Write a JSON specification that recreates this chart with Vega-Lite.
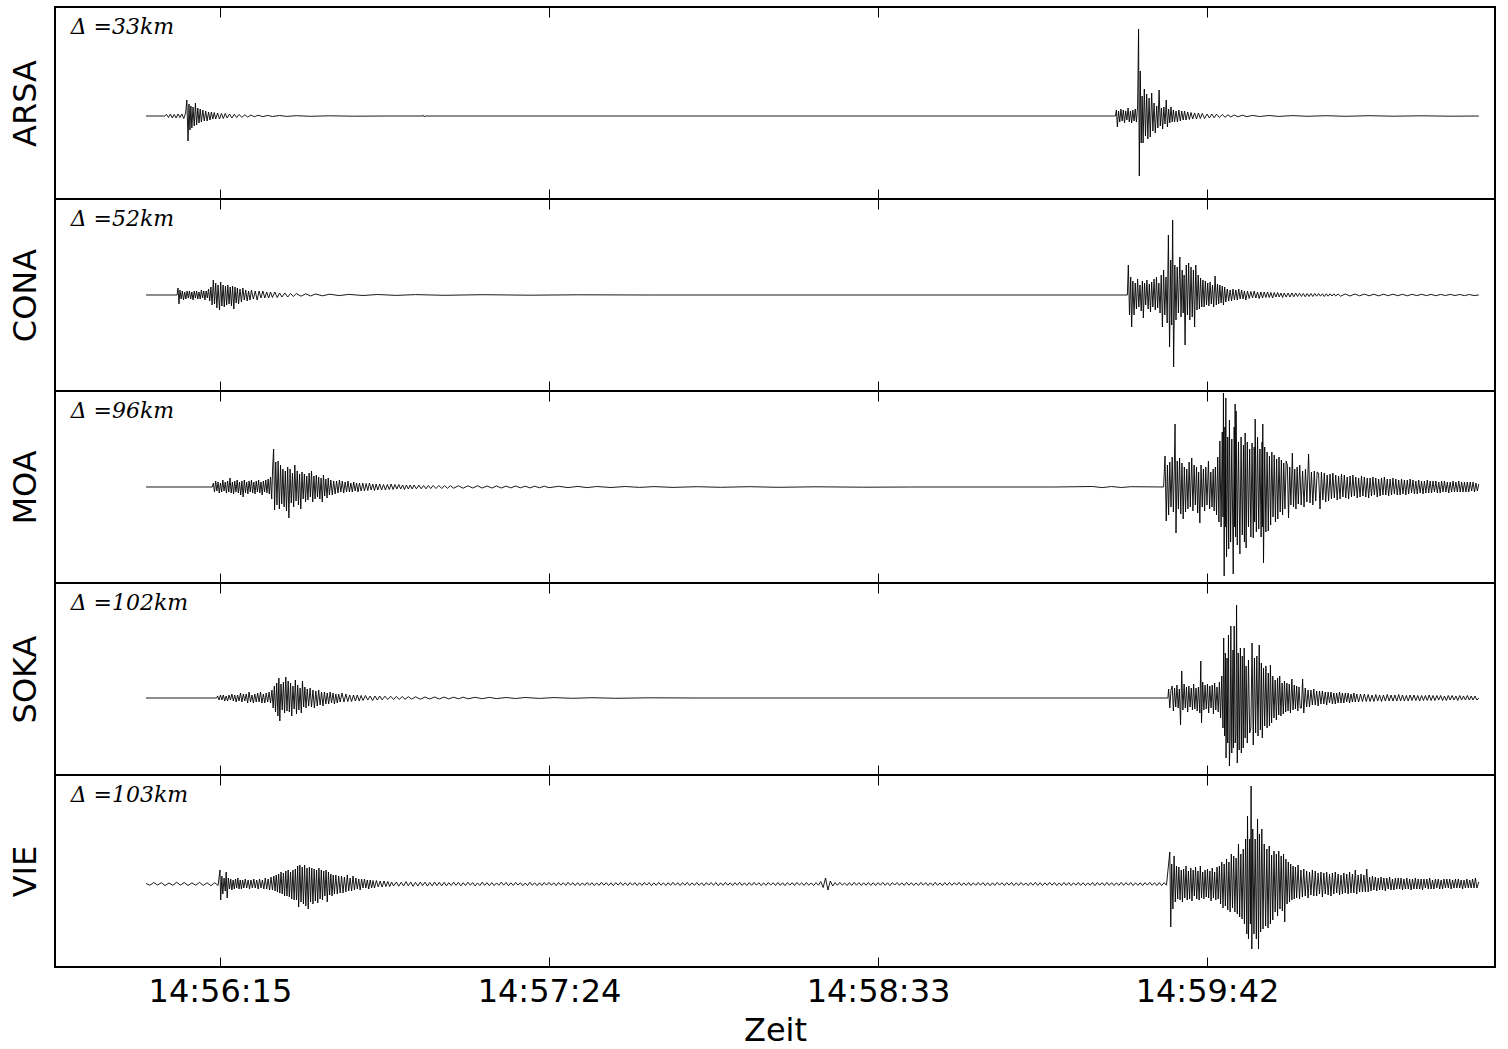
{
"$schema":"https://vega.github.io/schema/vega-lite/v6.json",
"background":"white",
"padding":{"left":8,"top":5,"right":13,"bottom":0},
"spacing":0,
"bounds":"flush",
"config":{"view":{"stroke":"black","strokeWidth":2},"font":"DejaVu Sans"},
"resolve":{"scale":{"x":"independent","y":"independent"}},
"datasets":{
"ARSA":[{"t":59.5,"v":0},{"t":63.4,"v":0},{"t":63.8,"v":1.5},{"t":64.2,"v":-1.5},{"t":64.6,"v":2},{"t":65,"v":-2},{"t":65.4,"v":1.5},{"t":65.8,"v":-2},{"t":66.2,"v":2},{"t":66.6,"v":-1.5},{"t":67,"v":2},{"t":67.4,"v":-2.5},{"t":67.8,"v":3},{"t":68.05,"v":16},{"t":68.3,"v":-25},{"t":68.5,"v":12},{"t":68.7,"v":-14},{"t":68.9,"v":10},{"t":69.1,"v":-12},{"t":69.35,"v":9},{"t":69.6,"v":-10},{"t":69.85,"v":13},{"t":70.1,"v":-9},{"t":70.35,"v":8},{"t":70.6,"v":-7},{"t":70.85,"v":7},{"t":71.1,"v":-6},{"t":71.4,"v":6},{"t":71.7,"v":-5},{"t":72,"v":5},{"t":72.3,"v":-5},{"t":72.6,"v":4},{"t":72.9,"v":-4},{"t":73.2,"v":4},{"t":73.5,"v":-3},{"t":73.8,"v":3.5},{"t":74.1,"v":-3},{"t":74.5,"v":3},{"t":74.9,"v":-3},{"t":75.3,"v":2.5},{"t":75.7,"v":-2.5},{"t":76.1,"v":2.5},{"t":76.5,"v":-2},{"t":77,"v":2},{"t":77.5,"v":-2},{"t":78,"v":1.8},{"t":78.5,"v":-1.5},{"t":79,"v":1.5},{"t":79.6,"v":-1.3},{"t":80.2,"v":1.2},{"t":80.8,"v":-1},{"t":81.5,"v":1},{"t":82.2,"v":-0.8},{"t":83,"v":0.8},{"t":84,"v":-0.7},{"t":85,"v":0.6},{"t":86,"v":-0.5},{"t":87.5,"v":0.5},{"t":89,"v":-0.4},{"t":91,"v":0.3},{"t":94,"v":-0.3},{"t":98,"v":0.2},{"t":103,"v":-0.2},{"t":110,"v":0},{"t":117.4,"v":0},{"t":117.6,"v":0.8},{"t":117.8,"v":-0.8},{"t":118,"v":0},{"t":262.8,"v":0},
{"t":263,"v":6},{"t":263.2,"v":-11},{"t":263.45,"v":5},{"t":263.7,"v":-6},{"t":263.95,"v":7},{"t":264.2,"v":-5},{"t":264.45,"v":6},{"t":264.7,"v":-7},{"t":264.95,"v":5},{"t":265.2,"v":-4},{"t":265.45,"v":8},{"t":265.7,"v":-6},{"t":265.95,"v":5},{"t":266.2,"v":-7},{"t":266.45,"v":6},{"t":266.7,"v":-5},{"t":266.95,"v":7},{"t":267.2,"v":-6},{"t":267.45,"v":10},{"t":267.65,"v":87},{"t":267.8,"v":-60},{"t":268,"v":45},{"t":268.2,"v":-27},{"t":268.4,"v":20},{"t":268.6,"v":-27},{"t":268.85,"v":27},{"t":269.1,"v":-20},{"t":269.35,"v":22},{"t":269.6,"v":-23},{"t":269.85,"v":18},{"t":270.1,"v":-21},{"t":270.4,"v":23},{"t":270.65,"v":-15},{"t":270.9,"v":13},{"t":271.15,"v":-17},{"t":271.45,"v":10},{"t":271.7,"v":-12},{"t":271.95,"v":26},{"t":272.2,"v":-10},{"t":272.45,"v":8},{"t":272.7,"v":-13},{"t":272.95,"v":9},{"t":273.2,"v":-8},{"t":273.45,"v":16},{"t":273.7,"v":-11},{"t":273.95,"v":7},{"t":274.2,"v":-7},{"t":274.45,"v":9},{"t":274.7,"v":-6},{"t":274.95,"v":6},{"t":275.2,"v":-6},{"t":275.5,"v":5},{"t":275.8,"v":-6},{"t":276.1,"v":6},{"t":276.4,"v":-5},{"t":276.7,"v":5},{"t":277,"v":-4},{"t":277.3,"v":5},{"t":277.6,"v":-4},{"t":277.95,"v":4},{"t":278.3,"v":-3.5},{"t":278.65,"v":3.5},{"t":279,"v":-3},{"t":279.4,"v":3},{"t":279.8,"v":-3},{"t":280.2,"v":3},{"t":280.6,"v":-2.5},{"t":281,"v":2.5},{"t":281.5,"v":-2.5},{"t":282,"v":2},{"t":282.5,"v":-2},{"t":283,"v":2},{"t":283.5,"v":-1.8},{"t":284,"v":1.8},{"t":284.6,"v":-1.5},{"t":285.2,"v":1.5},{"t":285.8,"v":-1.3},{"t":286.4,"v":1.2},{"t":287,"v":-1},{"t":287.7,"v":1},{"t":288.5,"v":-0.8},{"t":289.4,"v":0.8},{"t":290.4,"v":-0.7},{"t":291.5,"v":0.6},{"t":293,"v":-0.5},{"t":295,"v":0.5},{"t":297,"v":-0.4},{"t":300,"v":0.4},{"t":303,"v":-0.3},{"t":307,"v":0.3},{"t":311,"v":-0.3},{"t":316,"v":0.3},{"t":321,"v":-0.2},{"t":327,"v":0.2},{"t":333,"v":-0.2},{"t":339,"v":0}],
"CONA":[{"t":59.5,"v":0},{"t":66,"v":0},{"t":66.2,"v":7},{"t":66.4,"v":-9},{"t":66.6,"v":5},{"t":66.85,"v":-4},{"t":67.1,"v":4},{"t":67.35,"v":-5},{"t":67.6,"v":3},{"t":67.85,"v":-4},{"t":68.1,"v":4},{"t":68.35,"v":-3},{"t":68.6,"v":4},{"t":68.85,"v":-4},{"t":69.1,"v":3},{"t":69.35,"v":-5},{"t":69.6,"v":4},{"t":69.85,"v":-3},{"t":70.1,"v":4},{"t":70.35,"v":-4},{"t":70.6,"v":3},{"t":70.85,"v":-4},{"t":71.1,"v":5},{"t":71.35,"v":-3},{"t":71.6,"v":4},{"t":71.85,"v":-5},{"t":72.1,"v":4},{"t":72.35,"v":-3},{"t":72.6,"v":6},{"t":72.85,"v":-6},{"t":73.1,"v":8},{"t":73.35,"v":-10},{"t":73.6,"v":15},{"t":73.85,"v":-9},{"t":74.1,"v":12},{"t":74.35,"v":-13},{"t":74.6,"v":10},{"t":74.9,"v":-15},{"t":75.15,"v":13},{"t":75.4,"v":-11},{"t":75.65,"v":10},{"t":75.9,"v":-12},{"t":76.15,"v":9},{"t":76.4,"v":-10},{"t":76.65,"v":10},{"t":76.9,"v":-9},{"t":77.15,"v":8},{"t":77.4,"v":-11},{"t":77.65,"v":9},{"t":77.9,"v":-14},{"t":78.15,"v":8},{"t":78.4,"v":-8},{"t":78.65,"v":7},{"t":78.9,"v":-9},{"t":79.2,"v":6},{"t":79.5,"v":-7},{"t":79.8,"v":7},{"t":80.1,"v":-5},{"t":80.4,"v":5},{"t":80.7,"v":-6},{"t":81,"v":4},{"t":81.3,"v":-5},{"t":81.6,"v":5},{"t":82,"v":-4},{"t":82.4,"v":4},{"t":82.8,"v":-5},{"t":83.2,"v":4},{"t":83.6,"v":-3},{"t":84,"v":4},{"t":84.4,"v":-3},{"t":84.8,"v":3},{"t":85.2,"v":-3},{"t":85.6,"v":3},{"t":86,"v":-2.5},{"t":86.5,"v":3},{"t":87,"v":-2.5},{"t":87.5,"v":2},{"t":88,"v":-2},{"t":88.6,"v":2},{"t":89.2,"v":-2},{"t":89.8,"v":1.5},{"t":90.4,"v":-1.5},{"t":91,"v":1.5},{"t":92,"v":-1.2},{"t":93,"v":1.2},{"t":94,"v":-1},{"t":95,"v":1},{"t":96.5,"v":-0.8},{"t":98,"v":0.8},{"t":100,"v":-0.6},{"t":102,"v":0.6},{"t":105,"v":-0.5},{"t":108,"v":0.5},{"t":112,"v":-0.4},{"t":116,"v":0.4},{"t":122,"v":-0.3},{"t":130,"v":0.3},{"t":140,"v":-0.2},{"t":150,"v":0.2},{"t":165,"v":0},{"t":265.3,"v":0},
{"t":265.5,"v":30},{"t":265.75,"v":-20},{"t":266,"v":18},{"t":266.2,"v":-32},{"t":266.45,"v":14},{"t":266.7,"v":-20},{"t":266.95,"v":12},{"t":267.2,"v":-14},{"t":267.45,"v":16},{"t":267.7,"v":-12},{"t":267.95,"v":10},{"t":268.2,"v":-16},{"t":268.45,"v":14},{"t":268.65,"v":-23},{"t":268.9,"v":12},{"t":269.15,"v":-10},{"t":269.4,"v":15},{"t":269.65,"v":-14},{"t":269.9,"v":11},{"t":270.15,"v":-17},{"t":270.4,"v":13},{"t":270.65,"v":-12},{"t":270.9,"v":16},{"t":271.15,"v":-15},{"t":271.4,"v":18},{"t":271.65,"v":-13},{"t":271.9,"v":12},{"t":272.15,"v":-18},{"t":272.4,"v":20},{"t":272.65,"v":-32},{"t":272.9,"v":25},{"t":273.15,"v":-20},{"t":273.4,"v":18},{"t":273.65,"v":-28},{"t":273.9,"v":60},{"t":274.15,"v":-52},{"t":274.4,"v":35},{"t":274.6,"v":-30},{"t":274.8,"v":75},{"t":275,"v":-72},{"t":275.25,"v":30},{"t":275.5,"v":-25},{"t":275.75,"v":28},{"t":276,"v":-18},{"t":276.3,"v":38},{"t":276.55,"v":-22},{"t":276.8,"v":25},{"t":277,"v":-18},{"t":277.2,"v":20},{"t":277.4,"v":-50},{"t":277.65,"v":30},{"t":277.9,"v":-20},{"t":278.15,"v":32},{"t":278.4,"v":-25},{"t":278.65,"v":28},{"t":278.9,"v":-22},{"t":279.15,"v":25},{"t":279.4,"v":-32},{"t":279.65,"v":30},{"t":279.9,"v":-15},{"t":280.15,"v":20},{"t":280.4,"v":-14},{"t":280.65,"v":17},{"t":280.9,"v":-12},{"t":281.15,"v":15},{"t":281.4,"v":-12},{"t":281.65,"v":14},{"t":281.9,"v":-10},{"t":282.15,"v":12},{"t":282.4,"v":-11},{"t":282.65,"v":13},{"t":282.9,"v":-9},{"t":283.15,"v":10},{"t":283.4,"v":-12},{"t":283.7,"v":19},{"t":283.95,"v":-10},{"t":284.2,"v":11},{"t":284.45,"v":-9},{"t":284.7,"v":10},{"t":284.95,"v":-8},{"t":285.2,"v":9},{"t":285.45,"v":-10},{"t":285.7,"v":8},{"t":285.95,"v":-7},{"t":286.25,"v":6},{"t":286.55,"v":-6},{"t":286.85,"v":5},{"t":287.15,"v":-6},{"t":287.45,"v":6},{"t":287.75,"v":-5},{"t":288.05,"v":5},{"t":288.35,"v":-5},{"t":288.65,"v":6},{"t":288.95,"v":-4},{"t":289.25,"v":5},{"t":289.55,"v":-4},{"t":289.85,"v":4},{"t":290.15,"v":-5},{"t":290.5,"v":4},{"t":290.85,"v":-3.5},{"t":291.2,"v":3.5},{"t":291.55,"v":-3},{"t":291.9,"v":4},{"t":292.25,"v":-3},{"t":292.6,"v":3},{"t":292.95,"v":-3.5},{"t":293.3,"v":3},{"t":293.65,"v":-3},{"t":294,"v":3},{"t":294.35,"v":-2.5},{"t":294.7,"v":3},{"t":295.05,"v":-2.5},{"t":295.4,"v":2.5},{"t":295.75,"v":-3},{"t":296.1,"v":2.5},{"t":296.45,"v":-2},{"t":296.8,"v":2.5},{"t":297.15,"v":-2},{"t":297.5,"v":2},{"t":297.85,"v":-2.5},{"t":298.2,"v":2},{"t":298.6,"v":-2},{"t":299,"v":2},{"t":299.4,"v":-2},{"t":299.8,"v":2},{"t":300.2,"v":-1.8},{"t":300.6,"v":2},{"t":301,"v":-1.5},{"t":301.4,"v":1.8},{"t":301.8,"v":-1.5},{"t":302.2,"v":1.5},{"t":302.6,"v":-1.8},{"t":303,"v":1.5},{"t":303.4,"v":-1.5},{"t":303.8,"v":1.5},{"t":304.2,"v":-1.5},{"t":304.6,"v":1.5},{"t":305,"v":-1.2},{"t":305.4,"v":1.5},{"t":305.8,"v":-1.2},{"t":306.2,"v":1.2},{"t":306.6,"v":-1.5},{"t":307,"v":1.2},{"t":307.4,"v":-1.2},{"t":307.8,"v":1.2},{"t":308.2,"v":-1},{"t":308.6,"v":1.2},{"t":309,"v":-1},{"t":309.5,"v":1},{"t":310,"v":-1.2},{"t":311,"v":1},{"t":312,"v":-1},{"t":313,"v":1},{"t":314,"v":-0.8},{"t":315,"v":0.9},{"t":316,"v":-0.8},{"t":317,"v":0.8},{"t":318,"v":-0.9},{"t":319,"v":0.8},{"t":320,"v":-0.7},{"t":321,"v":0.8},{"t":322,"v":-0.7},{"t":323,"v":0.7},{"t":324,"v":-0.8},{"t":325,"v":0.7},{"t":326,"v":-0.6},{"t":327,"v":0.7},{"t":328,"v":-0.6},{"t":329,"v":0.6},{"t":330,"v":-0.7},{"t":331,"v":0.6},{"t":332,"v":-0.5},{"t":333,"v":0.6},{"t":334,"v":-0.5},{"t":335,"v":0.5},{"t":336,"v":-0.6},{"t":337,"v":0.5},{"t":338,"v":-0.5},{"t":339,"v":0}],
"MOA":[{"t":59.5,"v":0},{"t":73.4,"v":0},{"t":73.6,"v":4},{"t":73.85,"v":-5},{"t":74.1,"v":6},{"t":74.35,"v":-4},{"t":74.6,"v":5},{"t":74.85,"v":-6},{"t":75.1,"v":4},{"t":75.35,"v":-5},{"t":75.6,"v":7},{"t":75.85,"v":-4},{"t":76.1,"v":5},{"t":76.35,"v":-6},{"t":76.6,"v":6},{"t":76.85,"v":-5},{"t":77.1,"v":9},{"t":77.35,"v":-6},{"t":77.6,"v":5},{"t":77.85,"v":-7},{"t":78.1,"v":6},{"t":78.35,"v":-5},{"t":78.6,"v":7},{"t":78.85,"v":-6},{"t":79.1,"v":5},{"t":79.35,"v":-8},{"t":79.6,"v":6},{"t":79.85,"v":-10},{"t":80.1,"v":7},{"t":80.35,"v":-6},{"t":80.6,"v":5},{"t":80.85,"v":-7},{"t":81.1,"v":6},{"t":81.35,"v":-5},{"t":81.6,"v":7},{"t":81.85,"v":-6},{"t":82.1,"v":5},{"t":82.35,"v":-7},{"t":82.6,"v":6},{"t":82.85,"v":-5},{"t":83.1,"v":7},{"t":83.35,"v":-6},{"t":83.6,"v":5},{"t":83.85,"v":-8},{"t":84.1,"v":6},{"t":84.35,"v":-5},{"t":84.6,"v":7},{"t":84.85,"v":-6},{"t":85.1,"v":8},{"t":85.35,"v":-7},{"t":85.6,"v":10},{"t":85.85,"v":-12},{"t":86.05,"v":20},{"t":86.25,"v":38},{"t":86.45,"v":-23},{"t":86.7,"v":25},{"t":86.95,"v":-18},{"t":87.2,"v":26},{"t":87.45,"v":-22},{"t":87.7,"v":22},{"t":87.95,"v":-17},{"t":88.2,"v":18},{"t":88.45,"v":-20},{"t":88.7,"v":16},{"t":88.95,"v":-24},{"t":89.2,"v":20},{"t":89.45,"v":-31},{"t":89.7,"v":18},{"t":89.95,"v":-16},{"t":90.2,"v":14},{"t":90.45,"v":-20},{"t":90.7,"v":22},{"t":90.95,"v":-14},{"t":91.2,"v":16},{"t":91.45,"v":-18},{"t":91.7,"v":13},{"t":91.95,"v":-22},{"t":92.2,"v":15},{"t":92.45,"v":-12},{"t":92.7,"v":13},{"t":92.95,"v":-15},{"t":93.2,"v":11},{"t":93.45,"v":-13},{"t":93.7,"v":14},{"t":93.95,"v":-10},{"t":94.2,"v":16},{"t":94.45,"v":-15},{"t":94.7,"v":11},{"t":94.95,"v":-12},{"t":95.2,"v":12},{"t":95.45,"v":-10},{"t":95.7,"v":10},{"t":95.95,"v":-12},{"t":96.2,"v":9},{"t":96.45,"v":-15},{"t":96.7,"v":12},{"t":96.95,"v":-9},{"t":97.2,"v":8},{"t":97.45,"v":-11},{"t":97.7,"v":9},{"t":97.95,"v":-8},{"t":98.25,"v":7},{"t":98.55,"v":-8},{"t":98.85,"v":6},{"t":99.15,"v":-7},{"t":99.45,"v":6},{"t":99.75,"v":-6},{"t":100.05,"v":7},{"t":100.35,"v":-5},{"t":100.65,"v":6},{"t":100.95,"v":-6},{"t":101.25,"v":5},{"t":101.55,"v":-5},{"t":101.85,"v":6},{"t":102.15,"v":-5},{"t":102.45,"v":4},{"t":102.75,"v":-5},{"t":103.05,"v":5},{"t":103.35,"v":-4},{"t":103.65,"v":4},{"t":103.95,"v":-5},{"t":104.25,"v":4},{"t":104.6,"v":-4},{"t":104.95,"v":4},{"t":105.3,"v":-4},{"t":105.65,"v":3.5},{"t":106,"v":-3.5},{"t":106.35,"v":4},{"t":106.7,"v":-3},{"t":107.05,"v":3},{"t":107.4,"v":-3.5},{"t":107.75,"v":3},{"t":108.1,"v":-3},{"t":108.5,"v":3},{"t":108.9,"v":-3},{"t":109.3,"v":2.5},{"t":109.7,"v":-3},{"t":110.1,"v":2.5},{"t":110.5,"v":-2.5},{"t":110.9,"v":3},{"t":111.3,"v":-2.5},{"t":111.7,"v":2.5},{"t":112.1,"v":-2},{"t":112.5,"v":2.5},{"t":112.9,"v":-2},{"t":113.3,"v":2},{"t":113.7,"v":-2.5},{"t":114.1,"v":2},{"t":114.5,"v":-2},{"t":114.9,"v":2},{"t":115.3,"v":-2},{"t":115.7,"v":2},{"t":116.2,"v":-1.8},{"t":116.7,"v":1.8},{"t":117.2,"v":-1.8},{"t":117.7,"v":1.5},{"t":118.2,"v":-1.8},{"t":118.7,"v":1.5},{"t":119.2,"v":-1.5},{"t":119.7,"v":1.5},{"t":120.3,"v":-1.5},{"t":120.9,"v":1.5},{"t":121.5,"v":-1.5},{"t":122.1,"v":1.3},{"t":122.7,"v":-1.3},{"t":123.3,"v":1.3},{"t":124,"v":-1.2},{"t":125,"v":1.2},{"t":126,"v":-1.2},{"t":127,"v":1.2},{"t":128,"v":-1},{"t":129,"v":1.2},{"t":130,"v":-1},{"t":131,"v":1},{"t":132,"v":-1},{"t":133,"v":1},{"t":134,"v":-1},{"t":135,"v":0.9},{"t":136,"v":-0.9},{"t":137,"v":1},{"t":138,"v":-0.8},{"t":139,"v":0.8},{"t":140,"v":-0.9},{"t":141,"v":0.8},{"t":142,"v":-0.8},{"t":143,"v":0.8},{"t":144,"v":-0.7},{"t":146,"v":0.7},{"t":148,"v":-0.6},{"t":150,"v":0.6},{"t":152,"v":-0.6},{"t":154,"v":0.5},{"t":157,"v":-0.5},{"t":160,"v":0.5},{"t":163,"v":-0.4},{"t":166,"v":0.4},{"t":170,"v":-0.4},{"t":175,"v":0.3},{"t":180,"v":-0.3},{"t":186,"v":0.3},{"t":192,"v":-0.3},{"t":200,"v":0.2},{"t":210,"v":-0.2},{"t":220,"v":0},{"t":250,"v":0},{"t":258,"v":0.5},{"t":260,"v":-0.6},{"t":262,"v":0.5},{"t":264,"v":-0.5},{"t":266,"v":0.3},{"t":272.9,"v":0},
{"t":273.2,"v":31},{"t":273.45,"v":-34},{"t":273.7,"v":22},{"t":273.95,"v":-28},{"t":274.2,"v":25},{"t":274.45,"v":-20},{"t":274.7,"v":30},{"t":274.95,"v":-25},{"t":275.15,"v":20},{"t":275.3,"v":63},{"t":275.5,"v":-46},{"t":275.75,"v":26},{"t":276,"v":-22},{"t":276.25,"v":29},{"t":276.5,"v":-27},{"t":276.75,"v":24},{"t":277,"v":-32},{"t":277.25,"v":20},{"t":277.5,"v":-25},{"t":277.75,"v":18},{"t":278,"v":-22},{"t":278.25,"v":25},{"t":278.5,"v":-20},{"t":278.8,"v":29},{"t":279.05,"v":-24},{"t":279.3,"v":22},{"t":279.55,"v":-18},{"t":279.8,"v":20},{"t":280.05,"v":-26},{"t":280.25,"v":15},{"t":280.5,"v":-36},{"t":280.75,"v":22},{"t":281,"v":-20},{"t":281.25,"v":18},{"t":281.5,"v":-24},{"t":281.75,"v":20},{"t":282,"v":-18},{"t":282.3,"v":26},{"t":282.55,"v":-22},{"t":282.8,"v":15},{"t":283.05,"v":-20},{"t":283.3,"v":18},{"t":283.5,"v":-24},{"t":283.75,"v":20},{"t":284,"v":-28},{"t":284.25,"v":30},{"t":284.5,"v":-35},{"t":284.7,"v":46},{"t":284.95,"v":-40},{"t":285.2,"v":55},{"t":285.35,"v":-30},{"t":285.45,"v":94},{"t":285.6,"v":-89},{"t":285.75,"v":60},{"t":285.85,"v":-40},{"t":285.95,"v":89},{"t":286.1,"v":-70},{"t":286.35,"v":50},{"t":286.55,"v":-62},{"t":286.7,"v":67},{"t":286.95,"v":-55},{"t":287.2,"v":48},{"t":287.5,"v":-87},{"t":287.7,"v":60},{"t":287.8,"v":-40},{"t":287.9,"v":83},{"t":288,"v":-50},{"t":288.1,"v":76},{"t":288.35,"v":-58},{"t":288.6,"v":45},{"t":288.9,"v":-67},{"t":289.15,"v":50},{"t":289.4,"v":-48},{"t":289.65,"v":42},{"t":289.85,"v":-55},{"t":290,"v":54},{"t":290.2,"v":-61},{"t":290.45,"v":45},{"t":290.7,"v":-40},{"t":290.95,"v":38},{"t":291.2,"v":-50},{"t":291.45,"v":44},{"t":291.7,"v":-51},{"t":291.9,"v":40},{"t":292,"v":-35},{"t":292.1,"v":68},{"t":292.35,"v":-45},{"t":292.6,"v":50},{"t":292.85,"v":-42},{"t":293.1,"v":38},{"t":293.35,"v":-50},{"t":293.55,"v":45},{"t":293.62,"v":-40},{"t":293.7,"v":63},{"t":293.85,"v":-76},{"t":294.1,"v":40},{"t":294.35,"v":-45},{"t":294.6,"v":35},{"t":294.85,"v":-44},{"t":295.1,"v":31},{"t":295.35,"v":-38},{"t":295.6,"v":35},{"t":295.85,"v":-30},{"t":296.1,"v":32},{"t":296.35,"v":-35},{"t":296.6,"v":28},{"t":296.85,"v":-32},{"t":297.1,"v":30},{"t":297.35,"v":-25},{"t":297.6,"v":27},{"t":297.85,"v":-28},{"t":298.1,"v":24},{"t":298.35,"v":-22},{"t":298.6,"v":26},{"t":298.85,"v":22},{"t":299.1,"v":-31},{"t":299.35,"v":20},{"t":299.6,"v":-18},{"t":299.9,"v":34},{"t":300.15,"v":-20},{"t":300.4,"v":18},{"t":300.65,"v":-22},{"t":300.9,"v":20},{"t":301.15,"v":-17},{"t":301.45,"v":22},{"t":301.75,"v":-18},{"t":302.05,"v":16},{"t":302.35,"v":-20},{"t":302.65,"v":18},{"t":302.95,"v":-15},{"t":303.3,"v":33},{"t":303.6,"v":-16},{"t":303.9,"v":15},{"t":304.2,"v":-18},{"t":304.5,"v":16},{"t":304.8,"v":-14},{"t":305.1,"v":15},{"t":305.4,"v":14},{"t":305.7,"v":-22},{"t":306,"v":15},{"t":306.3,"v":-13},{"t":306.6,"v":14},{"t":306.9,"v":-15},{"t":307.2,"v":12},{"t":307.5,"v":-14},{"t":307.8,"v":13},{"t":308.1,"v":-12},{"t":308.4,"v":14},{"t":308.7,"v":-11},{"t":309,"v":12},{"t":309.3,"v":-13},{"t":309.6,"v":11},{"t":309.9,"v":-12},{"t":310.2,"v":13},{"t":310.5,"v":-10},{"t":310.8,"v":12},{"t":311.1,"v":-11},{"t":311.4,"v":10},{"t":311.7,"v":-12},{"t":312,"v":11},{"t":312.3,"v":-10},{"t":312.6,"v":12},{"t":312.9,"v":-9},{"t":313.2,"v":10},{"t":313.5,"v":-11},{"t":313.8,"v":9},{"t":314.1,"v":-10},{"t":314.4,"v":11},{"t":314.7,"v":-9},{"t":315,"v":10},{"t":315.3,"v":-10},{"t":315.6,"v":9},{"t":315.9,"v":-11},{"t":316.2,"v":9},{"t":316.5,"v":-9},{"t":316.8,"v":10},{"t":317.1,"v":-8},{"t":317.4,"v":9},{"t":317.7,"v":-10},{"t":318,"v":8},{"t":318.3,"v":-9},{"t":318.6,"v":9},{"t":318.9,"v":-8},{"t":319.2,"v":10},{"t":319.5,"v":-8},{"t":319.8,"v":8},{"t":320.1,"v":-9},{"t":320.4,"v":8},{"t":320.7,"v":-8},{"t":321,"v":9},{"t":321.3,"v":-7},{"t":321.6,"v":8},{"t":321.9,"v":-8},{"t":322.2,"v":7},{"t":322.5,"v":-8},{"t":322.8,"v":8},{"t":323.1,"v":-7},{"t":323.4,"v":7},{"t":323.7,"v":-8},{"t":324,"v":7},{"t":324.3,"v":-7},{"t":324.6,"v":8},{"t":324.9,"v":-6},{"t":325.2,"v":7},{"t":325.5,"v":-7},{"t":325.8,"v":6},{"t":326.1,"v":-7},{"t":326.4,"v":7},{"t":326.7,"v":-6},{"t":327,"v":6},{"t":327.3,"v":-7},{"t":327.6,"v":6},{"t":327.9,"v":-6},{"t":328.2,"v":7},{"t":328.5,"v":-6},{"t":328.8,"v":6},{"t":329.1,"v":-6},{"t":329.4,"v":6},{"t":329.7,"v":-5},{"t":330,"v":6},{"t":330.3,"v":-6},{"t":330.6,"v":5},{"t":330.9,"v":-6},{"t":331.2,"v":6},{"t":331.5,"v":-5},{"t":331.8,"v":6},{"t":332.1,"v":-5},{"t":332.4,"v":5},{"t":332.7,"v":-6},{"t":333,"v":5},{"t":333.3,"v":-5},{"t":333.6,"v":6},{"t":333.9,"v":-5},{"t":334.2,"v":5},{"t":334.5,"v":-5},{"t":334.8,"v":6},{"t":335.1,"v":-5},{"t":335.4,"v":5},{"t":335.7,"v":-5},{"t":336,"v":5},{"t":336.3,"v":-5},{"t":336.6,"v":5},{"t":336.9,"v":-5},{"t":337.2,"v":5},{"t":337.5,"v":-4},{"t":337.8,"v":5},{"t":338.1,"v":-5},{"t":338.4,"v":4},{"t":338.7,"v":-4},{"t":339,"v":3}],
"SOKA":[{"t":59.5,"v":0},{"t":74.3,"v":0},{"t":74.5,"v":2},{"t":74.8,"v":-2},{"t":75.1,"v":3},{"t":75.4,"v":-2},{"t":75.7,"v":3},{"t":76,"v":-3},{"t":76.3,"v":2},{"t":76.6,"v":-3},{"t":76.9,"v":3},{"t":77.2,"v":-2},{"t":77.5,"v":4},{"t":77.8,"v":-3},{"t":78.1,"v":3},{"t":78.4,"v":-4},{"t":78.7,"v":3},{"t":79,"v":-3},{"t":79.3,"v":5},{"t":79.6,"v":-4},{"t":79.9,"v":4},{"t":80.2,"v":-3},{"t":80.5,"v":4},{"t":80.8,"v":-5},{"t":81.1,"v":6},{"t":81.4,"v":-4},{"t":81.7,"v":3},{"t":82,"v":-5},{"t":82.3,"v":4},{"t":82.6,"v":-4},{"t":82.9,"v":5},{"t":83.2,"v":-4},{"t":83.5,"v":6},{"t":83.8,"v":-5},{"t":84.1,"v":4},{"t":84.4,"v":-5},{"t":84.7,"v":5},{"t":85,"v":-4},{"t":85.3,"v":6},{"t":85.6,"v":-5},{"t":85.9,"v":8},{"t":86.15,"v":-10},{"t":86.4,"v":12},{"t":86.65,"v":-14},{"t":86.9,"v":15},{"t":87.15,"v":-18},{"t":87.35,"v":20},{"t":87.55,"v":-23},{"t":87.8,"v":14},{"t":88.05,"v":-12},{"t":88.3,"v":16},{"t":88.55,"v":-15},{"t":88.8,"v":21},{"t":89.05,"v":-13},{"t":89.3,"v":17},{"t":89.55,"v":-14},{"t":89.8,"v":15},{"t":90.05,"v":-18},{"t":90.3,"v":12},{"t":90.55,"v":-11},{"t":90.8,"v":18},{"t":91.05,"v":-16},{"t":91.3,"v":13},{"t":91.55,"v":-12},{"t":91.8,"v":10},{"t":92.05,"v":-15},{"t":92.3,"v":17},{"t":92.55,"v":-9},{"t":92.8,"v":11},{"t":93.05,"v":-10},{"t":93.3,"v":9},{"t":93.6,"v":-8},{"t":93.9,"v":10},{"t":94.2,"v":-9},{"t":94.5,"v":8},{"t":94.8,"v":-10},{"t":95.1,"v":7},{"t":95.4,"v":-8},{"t":95.7,"v":8},{"t":96,"v":-7},{"t":96.3,"v":6},{"t":96.6,"v":-8},{"t":96.9,"v":6},{"t":97.2,"v":-6},{"t":97.5,"v":5},{"t":97.8,"v":-6},{"t":98.1,"v":6},{"t":98.4,"v":-5},{"t":98.7,"v":5},{"t":99,"v":-6},{"t":99.3,"v":4},{"t":99.6,"v":-5},{"t":99.9,"v":4},{"t":100.2,"v":-4},{"t":100.6,"v":5},{"t":101,"v":-4},{"t":101.4,"v":4},{"t":101.8,"v":-3.5},{"t":102.2,"v":3},{"t":102.6,"v":-3.5},{"t":103,"v":3},{"t":103.4,"v":-3},{"t":103.8,"v":3},{"t":104.2,"v":-3},{"t":104.6,"v":2.5},{"t":105,"v":-2.5},{"t":105.5,"v":2.5},{"t":106,"v":-2},{"t":106.5,"v":2},{"t":107,"v":-2.5},{"t":107.5,"v":2},{"t":108,"v":-2},{"t":108.5,"v":2},{"t":109,"v":-1.8},{"t":109.6,"v":1.8},{"t":110.2,"v":-1.5},{"t":110.8,"v":1.8},{"t":111.4,"v":-1.5},{"t":112,"v":1.5},{"t":112.6,"v":-1.5},{"t":113.2,"v":1.5},{"t":113.8,"v":-1.3},{"t":114.5,"v":1.3},{"t":115.2,"v":-1.2},{"t":116,"v":1.2},{"t":117,"v":-1.2},{"t":118,"v":1},{"t":119,"v":-1},{"t":120,"v":1},{"t":121,"v":-1},{"t":122,"v":0.9},{"t":123,"v":-0.9},{"t":124,"v":0.8},{"t":125,"v":-0.8},{"t":126,"v":0.8},{"t":127,"v":-0.8},{"t":128.5,"v":0.7},{"t":130,"v":-0.7},{"t":131.5,"v":0.6},{"t":133,"v":-0.6},{"t":135,"v":0.5},{"t":137,"v":-0.5},{"t":139,"v":0.5},{"t":142,"v":-0.4},{"t":145,"v":0.4},{"t":149,"v":-0.3},{"t":153,"v":0.3},{"t":158,"v":-0.3},{"t":165,"v":0.2},{"t":175,"v":0},{"t":273.8,"v":0},
{"t":273.95,"v":9},{"t":274.2,"v":-10},{"t":274.45,"v":8},{"t":274.7,"v":12},{"t":274.95,"v":-13},{"t":275.2,"v":10},{"t":275.45,"v":-9},{"t":275.7,"v":13},{"t":275.95,"v":-10},{"t":276.2,"v":9},{"t":276.45,"v":-27},{"t":276.7,"v":27},{"t":276.95,"v":-12},{"t":277.2,"v":14},{"t":277.45,"v":-10},{"t":277.7,"v":11},{"t":277.95,"v":-14},{"t":278.2,"v":12},{"t":278.45,"v":-9},{"t":278.7,"v":10},{"t":278.95,"v":-12},{"t":279.2,"v":14},{"t":279.45,"v":-11},{"t":279.7,"v":10},{"t":279.95,"v":-13},{"t":280.2,"v":11},{"t":280.5,"v":-15},{"t":280.7,"v":37},{"t":280.85,"v":-25},{"t":281.1,"v":16},{"t":281.35,"v":-12},{"t":281.6,"v":13},{"t":281.85,"v":-11},{"t":282.1,"v":14},{"t":282.35,"v":-15},{"t":282.6,"v":12},{"t":282.85,"v":-10},{"t":283.1,"v":13},{"t":283.35,"v":-16},{"t":283.6,"v":15},{"t":283.85,"v":-12},{"t":284.1,"v":11},{"t":284.35,"v":-14},{"t":284.6,"v":16},{"t":284.85,"v":-20},{"t":285.1,"v":22},{"t":285.35,"v":-30},{"t":285.5,"v":60},{"t":285.7,"v":-38},{"t":285.85,"v":45},{"t":286,"v":-60},{"t":286.2,"v":40},{"t":286.35,"v":-45},{"t":286.5,"v":63},{"t":286.7,"v":-68},{"t":286.85,"v":-40},{"t":287,"v":72},{"t":287.2,"v":-55},{"t":287.45,"v":48},{"t":287.55,"v":-50},{"t":287.7,"v":72},{"t":287.9,"v":-45},{"t":288.05,"v":-38},{"t":288.2,"v":93},{"t":288.35,"v":-65},{"t":288.55,"v":45},{"t":288.75,"v":-52},{"t":289,"v":50},{"t":289.2,"v":-55},{"t":289.4,"v":42},{"t":289.6,"v":-50},{"t":289.8,"v":50},{"t":290,"v":-40},{"t":290.2,"v":32},{"t":290.45,"v":-45},{"t":290.7,"v":38},{"t":290.95,"v":-35},{"t":291.2,"v":-30},{"t":291.45,"v":55},{"t":291.7,"v":-47},{"t":291.95,"v":40},{"t":292.2,"v":-35},{"t":292.45,"v":42},{"t":292.7,"v":-38},{"t":292.95,"v":53},{"t":293.2,"v":-32},{"t":293.4,"v":35},{"t":293.6,"v":-40},{"t":293.85,"v":30},{"t":294.1,"v":-28},{"t":294.35,"v":32},{"t":294.6,"v":-30},{"t":294.85,"v":25},{"t":295.1,"v":-28},{"t":295.3,"v":33},{"t":295.55,"v":-25},{"t":295.8,"v":22},{"t":296.05,"v":-20},{"t":296.3,"v":18},{"t":296.55,"v":-22},{"t":296.8,"v":20},{"t":297.05,"v":-17},{"t":297.25,"v":22},{"t":297.5,"v":-18},{"t":297.75,"v":15},{"t":298,"v":-16},{"t":298.25,"v":17},{"t":298.5,"v":-14},{"t":298.75,"v":15},{"t":299,"v":-13},{"t":299.25,"v":14},{"t":299.5,"v":-15},{"t":299.8,"v":19},{"t":300.05,"v":-12},{"t":300.3,"v":13},{"t":300.55,"v":-11},{"t":300.8,"v":12},{"t":301.05,"v":-13},{"t":301.3,"v":11},{"t":301.55,"v":-10},{"t":301.8,"v":-10},{"t":302.05,"v":19},{"t":302.3,"v":-15},{"t":302.6,"v":10},{"t":302.9,"v":-9},{"t":303.2,"v":8},{"t":303.5,"v":-9},{"t":303.8,"v":8},{"t":304.1,"v":-7},{"t":304.4,"v":9},{"t":304.7,"v":-7},{"t":305,"v":7},{"t":305.3,"v":-8},{"t":305.6,"v":7},{"t":305.9,"v":-6},{"t":306.2,"v":7},{"t":306.5,"v":-6},{"t":306.8,"v":6},{"t":307.1,"v":-7},{"t":307.4,"v":6},{"t":307.7,"v":-5},{"t":308,"v":6},{"t":308.3,"v":-6},{"t":308.6,"v":5},{"t":308.9,"v":-6},{"t":309.2,"v":5},{"t":309.5,"v":-5},{"t":309.8,"v":6},{"t":310.1,"v":-5},{"t":310.4,"v":5},{"t":310.7,"v":-5},{"t":311,"v":5},{"t":311.3,"v":-4},{"t":311.6,"v":5},{"t":311.9,"v":-5},{"t":312.2,"v":4},{"t":312.5,"v":-4},{"t":312.8,"v":5},{"t":313.1,"v":-4},{"t":313.4,"v":4},{"t":313.8,"v":-4},{"t":314.2,"v":4},{"t":314.6,"v":-3.5},{"t":315,"v":4},{"t":315.4,"v":-3.5},{"t":315.8,"v":3.5},{"t":316.2,"v":-3.5},{"t":316.6,"v":3},{"t":317,"v":-3.5},{"t":317.4,"v":3.5},{"t":317.8,"v":-3},{"t":318.2,"v":3},{"t":318.6,"v":-3.5},{"t":319,"v":3},{"t":319.4,"v":-3},{"t":319.8,"v":3.5},{"t":320.2,"v":-3},{"t":320.6,"v":3},{"t":321,"v":-3},{"t":321.4,"v":3},{"t":321.8,"v":-3},{"t":322.2,"v":3.5},{"t":322.6,"v":-3},{"t":323,"v":3},{"t":323.4,"v":-3},{"t":323.8,"v":2.5},{"t":324.2,"v":-3},{"t":324.6,"v":3},{"t":325,"v":-2.5},{"t":325.4,"v":3},{"t":325.8,"v":-2.5},{"t":326.2,"v":2.5},{"t":326.6,"v":-3},{"t":327,"v":2.5},{"t":327.4,"v":-2.5},{"t":327.8,"v":2.5},{"t":328.2,"v":-2.5},{"t":328.6,"v":3},{"t":329,"v":-2.5},{"t":329.4,"v":2.5},{"t":329.8,"v":-2.5},{"t":330.2,"v":2.5},{"t":330.6,"v":-2},{"t":331,"v":2.5},{"t":331.4,"v":-2.5},{"t":331.8,"v":2},{"t":332.2,"v":-2.5},{"t":332.6,"v":2.5},{"t":333,"v":-2},{"t":333.4,"v":2.5},{"t":333.8,"v":-2},{"t":334.2,"v":2},{"t":334.6,"v":-2.5},{"t":335,"v":2.5},{"t":335.4,"v":-2},{"t":335.8,"v":2},{"t":336.2,"v":-2},{"t":336.6,"v":2.5},{"t":337,"v":-2},{"t":337.4,"v":2},{"t":337.8,"v":-2},{"t":338.2,"v":2},{"t":338.6,"v":-2},{"t":339,"v":0}],
"VIE":[{"t":59.5,"v":0.5},{"t":60.3,"v":-1.2},{"t":61.1,"v":1.5},{"t":61.9,"v":-1},{"t":62.7,"v":1.3},{"t":63.5,"v":-1.6},{"t":64.3,"v":1},{"t":65.1,"v":-1.3},{"t":65.9,"v":1.7},{"t":66.7,"v":-1.1},{"t":67.5,"v":1.4},{"t":68.3,"v":-1.5},{"t":69.1,"v":1.1},{"t":69.9,"v":-1.2},{"t":70.7,"v":1.6},{"t":71.5,"v":-1.4},{"t":72.3,"v":1.2},{"t":73.1,"v":-1.7},{"t":73.9,"v":1.3},{"t":74.6,"v":-1.5},
{"t":75,"v":14},{"t":75.15,"v":-16},{"t":75.4,"v":8},{"t":75.6,"v":-10},{"t":75.85,"v":6},{"t":76.1,"v":-7},{"t":76.3,"v":12},{"t":76.5,"v":-14},{"t":76.75,"v":6},{"t":77,"v":-5},{"t":77.25,"v":5},{"t":77.5,"v":-6},{"t":77.75,"v":4},{"t":78,"v":-5},{"t":78.25,"v":5},{"t":78.5,"v":-4},{"t":78.75,"v":6},{"t":79,"v":-5},{"t":79.25,"v":4},{"t":79.5,"v":-5},{"t":79.75,"v":4},{"t":80,"v":-4},{"t":80.3,"v":5},{"t":80.6,"v":-4},{"t":80.9,"v":4},{"t":81.2,"v":-5},{"t":81.5,"v":4},{"t":81.8,"v":-4},{"t":82.1,"v":5},{"t":82.4,"v":-4},{"t":82.7,"v":4},{"t":83,"v":-5},{"t":83.3,"v":5},{"t":83.6,"v":-4},{"t":83.9,"v":4},{"t":84.2,"v":-5},{"t":84.5,"v":6},{"t":84.8,"v":-5},{"t":85.1,"v":5},{"t":85.4,"v":-6},{"t":85.7,"v":7},{"t":86,"v":-6},{"t":86.3,"v":8},{"t":86.55,"v":-7},{"t":86.8,"v":9},{"t":87.05,"v":-8},{"t":87.3,"v":10},{"t":87.55,"v":-9},{"t":87.8,"v":12},{"t":88.05,"v":-10},{"t":88.3,"v":11},{"t":88.55,"v":-12},{"t":88.8,"v":13},{"t":89.05,"v":-12},{"t":89.3,"v":14},{"t":89.55,"v":-13},{"t":89.8,"v":12},{"t":90.05,"v":-15},{"t":90.3,"v":14},{"t":90.55,"v":-16},{"t":90.8,"v":15},{"t":91.05,"v":-16},{"t":91.3,"v":18},{"t":91.5,"v":-23},{"t":91.75,"v":19},{"t":92,"v":-18},{"t":92.25,"v":17},{"t":92.5,"v":-20},{"t":92.75,"v":19},{"t":93,"v":-22},{"t":93.25,"v":16},{"t":93.5,"v":-25},{"t":93.75,"v":17},{"t":94,"v":-18},{"t":94.25,"v":16},{"t":94.5,"v":-20},{"t":94.75,"v":15},{"t":95,"v":-17},{"t":95.25,"v":14},{"t":95.5,"v":-19},{"t":95.75,"v":16},{"t":96,"v":-15},{"t":96.25,"v":14},{"t":96.5,"v":-16},{"t":96.75,"v":13},{"t":97,"v":-12},{"t":97.25,"v":14},{"t":97.5,"v":-18},{"t":97.75,"v":12},{"t":98,"v":-11},{"t":98.25,"v":10},{"t":98.5,"v":-12},{"t":98.75,"v":9},{"t":99,"v":-10},{"t":99.3,"v":9},{"t":99.6,"v":-10},{"t":99.9,"v":8},{"t":100.2,"v":-9},{"t":100.5,"v":8},{"t":100.8,"v":-9},{"t":101.1,"v":7},{"t":101.4,"v":-8},{"t":101.7,"v":9},{"t":102,"v":-7},{"t":102.3,"v":6},{"t":102.6,"v":-7},{"t":102.9,"v":8},{"t":103.2,"v":-6},{"t":103.5,"v":6},{"t":103.8,"v":-5},{"t":104.1,"v":5},{"t":104.4,"v":-6},{"t":104.7,"v":5},{"t":105,"v":-4},{"t":105.3,"v":5},{"t":105.6,"v":-4},{"t":105.9,"v":4},{"t":106.2,"v":-5},{"t":106.5,"v":4},{"t":106.8,"v":-4},{"t":107.1,"v":3.5},{"t":107.4,"v":-4},{"t":107.8,"v":3.5},{"t":108.2,"v":-3},{"t":108.6,"v":3},{"t":109,"v":-3},{"t":109.4,"v":3},{"t":109.8,"v":-2.5},{"t":110.2,"v":2.5},{"t":110.6,"v":-2.5},{"t":111,"v":2},{"t":111.4,"v":-2},
{"t":112,"v":2},{"t":112.5,"v":-2.2},{"t":113,"v":1.8},{"t":113.5,"v":-2},{"t":114,"v":2.4},{"t":114.5,"v":-1.8},{"t":115,"v":2},{"t":115.5,"v":-2.3},{"t":116,"v":1.7},{"t":116.5,"v":-2},{"t":117,"v":1.9},{"t":117.5,"v":-1.6},{"t":118,"v":1.8},{"t":118.5,"v":-2.1},{"t":119,"v":1.5},{"t":119.5,"v":-1.9},{"t":120,"v":2},{"t":120.5,"v":-1.7},{"t":121,"v":1.6},{"t":121.5,"v":-1.9},
{"t":122,"v":1.6},{"t":122.5,"v":-1.8},{"t":123,"v":1.3},{"t":123.5,"v":-1.5},{"t":124,"v":1.9},{"t":124.5,"v":-1.4},{"t":125,"v":1.6},{"t":125.5,"v":-1.8},{"t":126,"v":1.3},{"t":126.5,"v":-1.5},{"t":127,"v":1.7},{"t":127.5,"v":-1.2},{"t":128,"v":1.4},{"t":128.5,"v":-1.9},{"t":129,"v":1.1},{"t":129.5,"v":-1.6},{"t":130,"v":1.8},{"t":130.5,"v":-1.4},{"t":131,"v":1.3},{"t":131.5,"v":-1.7},
{"t":132,"v":1.4},{"t":132.5,"v":-1.6},{"t":133,"v":1.1},{"t":133.5,"v":-1.3},{"t":134,"v":1.8},{"t":134.5,"v":-1.2},{"t":135,"v":1.5},{"t":135.5,"v":-1.7},{"t":136,"v":1.2},{"t":136.5,"v":-1.4},{"t":137,"v":1.6},{"t":137.5,"v":-1.1},{"t":138,"v":1.3},{"t":138.5,"v":-1.8},{"t":139,"v":1},{"t":139.5,"v":-1.5},{"t":140,"v":1.7},{"t":140.5,"v":-1.3},{"t":141,"v":1.2},{"t":141.5,"v":-1.6},
{"t":142,"v":1.2},{"t":142.5,"v":-1.5},{"t":143,"v":1.4},{"t":143.5,"v":-1.1},{"t":144,"v":1.6},{"t":144.5,"v":-1.3},{"t":145,"v":1.2},{"t":145.5,"v":-1.6},{"t":146,"v":1.5},{"t":146.5,"v":-1.2},{"t":147,"v":1.3},{"t":147.5,"v":-1.4},{"t":148,"v":1.7},{"t":148.5,"v":-1.1},{"t":149,"v":1.2},{"t":149.5,"v":-1.5},{"t":150,"v":1.4},{"t":150.5,"v":-1.6},{"t":151,"v":1.1},{"t":151.5,"v":-1.3},
{"t":152,"v":1.5},{"t":152.5,"v":-1.2},{"t":153,"v":1.3},{"t":153.5,"v":-1.6},{"t":154,"v":1.1},{"t":154.5,"v":-1.4},{"t":155,"v":1.7},{"t":155.5,"v":-1.2},{"t":156,"v":1.3},{"t":156.5,"v":-1.5},{"t":157,"v":1.2},{"t":157.5,"v":-1.7},{"t":158,"v":1.4},{"t":158.5,"v":-1.1},{"t":159,"v":1.6},{"t":159.5,"v":-1.3},{"t":160,"v":1.2},{"t":160.5,"v":-1.5},{"t":161,"v":1.4},{"t":161.5,"v":-1.2},
{"t":162,"v":1.3},{"t":162.5,"v":-1.6},{"t":163,"v":1.2},{"t":163.5,"v":-1.4},{"t":164,"v":1.5},{"t":164.5,"v":-1.1},{"t":165,"v":1.4},{"t":165.5,"v":-1.7},{"t":166,"v":1.2},{"t":166.5,"v":-1.3},{"t":167,"v":1.6},{"t":167.5,"v":-1.2},{"t":168,"v":1.1},{"t":168.5,"v":-1.5},{"t":169,"v":1.3},{"t":169.5,"v":-1.4},{"t":170,"v":1.7},{"t":170.5,"v":-1.2},{"t":171,"v":1.3},{"t":171.5,"v":-1.6},
{"t":172,"v":1.4},{"t":172.5,"v":-1.2},{"t":173,"v":1.6},{"t":173.5,"v":-1.5},{"t":174,"v":1.1},{"t":174.5,"v":-1.3},{"t":175,"v":1.5},{"t":175.5,"v":-1.4},{"t":176,"v":1.2},{"t":176.5,"v":-1.6},{"t":177,"v":1.3},{"t":177.5,"v":-1.1},{"t":178,"v":1.5},{"t":178.5,"v":-1.3},{"t":179,"v":1.4},{"t":179.5,"v":-1.7},{"t":180,"v":1.2},{"t":180.5,"v":-1.4},{"t":181,"v":1.6},{"t":181.5,"v":-1.2},
{"t":182,"v":1.2},{"t":182.5,"v":-1.5},{"t":183,"v":1.3},{"t":183.5,"v":-1.2},{"t":184,"v":1.7},{"t":184.5,"v":-1.4},{"t":185,"v":1.1},{"t":185.5,"v":-1.5},{"t":186,"v":1.4},{"t":186.5,"v":-1.3},{"t":187,"v":1.6},{"t":187.5,"v":-1.2},{"t":188,"v":1.3},{"t":188.5,"v":-1.6},{"t":189,"v":1.2},{"t":189.5,"v":-1.4},{"t":190,"v":1.5},{"t":190.5,"v":-1.1},{"t":191,"v":1.3},{"t":191.5,"v":-1.5},
{"t":192,"v":1.5},{"t":192.5,"v":-1.3},{"t":193,"v":1.2},{"t":193.5,"v":-1.6},{"t":194,"v":1.4},{"t":194.5,"v":-1.2},{"t":195,"v":1.3},{"t":195.5,"v":-1.5},{"t":196,"v":1.6},{"t":196.5,"v":-1.1},{"t":197,"v":1.2},{"t":197.5,"v":-1.4},{"t":198,"v":1.5},{"t":198.5,"v":-1.3},{"t":199,"v":1.1},{"t":199.5,"v":-1.6},{"t":200,"v":1.4},{"t":200.5,"v":-1.2},{"t":201,"v":2.5},{"t":201.5,"v":-3.5},
{"t":202,"v":6},{"t":202.5,"v":-6},{"t":203,"v":3},{"t":203.5,"v":-2},{"t":204,"v":1.4},{"t":204.5,"v":-1.3},{"t":205,"v":1.6},{"t":205.5,"v":-1.2},{"t":206,"v":1.1},{"t":206.5,"v":-1.5},{"t":207,"v":1.3},{"t":207.5,"v":-1.4},{"t":208,"v":1.6},{"t":208.5,"v":-1.2},{"t":209,"v":1.4},{"t":209.5,"v":-1.5},{"t":210,"v":1.2},{"t":210.5,"v":-1.3},{"t":211,"v":1.5},{"t":211.5,"v":-1.4},
{"t":212,"v":1.3},{"t":212.5,"v":-1.5},{"t":213,"v":1.4},{"t":213.5,"v":-1.2},{"t":214,"v":1.6},{"t":214.5,"v":-1.3},{"t":215,"v":1.2},{"t":215.5,"v":-1.6},{"t":216,"v":1.4},{"t":216.5,"v":-1.1},{"t":217,"v":1.5},{"t":217.5,"v":-1.3},{"t":218,"v":1.2},{"t":218.5,"v":-1.4},{"t":219,"v":1.6},{"t":219.5,"v":-1.2},{"t":220,"v":1.3},{"t":220.5,"v":-1.5},{"t":221,"v":1.1},{"t":221.5,"v":-1.4},
{"t":222,"v":1.6},{"t":222.5,"v":-1.2},{"t":223,"v":1.3},{"t":223.5,"v":-1.5},{"t":224,"v":1.2},{"t":224.5,"v":-1.4},{"t":225,"v":1.7},{"t":225.5,"v":-1.3},{"t":226,"v":1.1},{"t":226.5,"v":-1.6},{"t":227,"v":1.4},{"t":227.5,"v":-1.2},{"t":228,"v":1.5},{"t":228.5,"v":-1.4},{"t":229,"v":1.3},{"t":229.5,"v":-1.1},{"t":230,"v":1.6},{"t":230.5,"v":-1.5},{"t":231,"v":1.2},{"t":231.5,"v":-1.3},
{"t":232,"v":1.4},{"t":232.5,"v":-1.6},{"t":233,"v":1.2},{"t":233.5,"v":-1.3},{"t":234,"v":1.5},{"t":234.5,"v":-1.2},{"t":235,"v":1.4},{"t":235.5,"v":-1.5},{"t":236,"v":1.3},{"t":236.5,"v":-1.7},{"t":237,"v":1.2},{"t":237.5,"v":-1.4},{"t":238,"v":1.6},{"t":238.5,"v":-1.1},{"t":239,"v":1.3},{"t":239.5,"v":-1.5},{"t":240,"v":1.4},{"t":240.5,"v":-1.2},{"t":241,"v":1.5},{"t":241.5,"v":-1.6},
{"t":242,"v":1.2},{"t":242.5,"v":-1.4},{"t":243,"v":1.5},{"t":243.5,"v":-1.3},{"t":244,"v":1.1},{"t":244.5,"v":-1.6},{"t":245,"v":1.4},{"t":245.5,"v":-1.2},{"t":246,"v":1.6},{"t":246.5,"v":-1.4},{"t":247,"v":1.3},{"t":247.5,"v":-1.5},{"t":248,"v":1.2},{"t":248.5,"v":-1.3},{"t":249,"v":1.7},{"t":249.5,"v":-1.2},{"t":250,"v":1.4},{"t":250.5,"v":-1.6},{"t":251,"v":1.1},{"t":251.5,"v":-1.4},
{"t":252,"v":1.5},{"t":252.5,"v":-1.3},{"t":253,"v":1.4},{"t":253.5,"v":-1.6},{"t":254,"v":1.2},{"t":254.5,"v":-1.2},{"t":255,"v":1.6},{"t":255.5,"v":-1.4},{"t":256,"v":1.3},{"t":256.5,"v":-1.5},{"t":257,"v":1.1},{"t":257.5,"v":-1.3},{"t":258,"v":1.5},{"t":258.5,"v":-1.6},{"t":259,"v":1.4},{"t":259.5,"v":-1.2},{"t":260,"v":1.3},{"t":260.5,"v":-1.5},{"t":261,"v":1.6},{"t":261.5,"v":-1.3},
{"t":262,"v":1.3},{"t":262.5,"v":-1.5},{"t":263,"v":1.2},{"t":263.5,"v":-1.4},{"t":264,"v":1.6},{"t":264.5,"v":-1.3},{"t":265,"v":1.4},{"t":265.5,"v":-1.2},{"t":266,"v":1.5},{"t":266.5,"v":-1.6},{"t":267,"v":1.2},{"t":267.5,"v":-1.4},{"t":268,"v":1.3},{"t":268.5,"v":-1.5},{"t":269,"v":1.4},{"t":269.5,"v":-1.1},{"t":270,"v":1.6},{"t":270.5,"v":-1.3},{"t":271,"v":1.2},{"t":271.5,"v":-1.5},
{"t":272,"v":1.4},{"t":272.5,"v":-1.6},{"t":273,"v":1.3},{"t":273.5,"v":-1.2},
{"t":274.2,"v":32},{"t":274.4,"v":-43},{"t":274.6,"v":20},{"t":274.85,"v":-25},{"t":275.1,"v":28},{"t":275.35,"v":-18},{"t":275.6,"v":18},{"t":275.85,"v":-15},{"t":276.1,"v":17},{"t":276.35,"v":-16},{"t":276.6,"v":14},{"t":276.85,"v":-18},{"t":277.1,"v":15},{"t":277.35,"v":-14},{"t":277.6,"v":18},{"t":277.85,"v":-16},{"t":278.1,"v":13},{"t":278.35,"v":-15},{"t":278.6,"v":16},{"t":278.85,"v":-17},{"t":279.1,"v":14},{"t":279.35,"v":-12},{"t":279.6,"v":17},{"t":279.85,"v":-15},{"t":280.1,"v":13},{"t":280.35,"v":-16},{"t":280.6,"v":18},{"t":280.85,"v":-14},{"t":281.1,"v":12},{"t":281.35,"v":-15},{"t":281.6,"v":14},{"t":281.85,"v":-13},{"t":282.1,"v":15},{"t":282.35,"v":-14},{"t":282.6,"v":13},{"t":282.85,"v":-17},{"t":283.1,"v":16},{"t":283.35,"v":-14},{"t":283.6,"v":12},{"t":283.85,"v":-16},{"t":284.1,"v":17},{"t":284.35,"v":-15},{"t":284.6,"v":18},{"t":284.85,"v":-20},{"t":285.1,"v":22},{"t":285.35,"v":-24},{"t":285.6,"v":20},{"t":285.85,"v":-22},{"t":286.1,"v":25},{"t":286.35,"v":-26},{"t":286.6,"v":22},{"t":286.85,"v":-28},{"t":287.1,"v":30},{"t":287.35,"v":-24},{"t":287.6,"v":28},{"t":287.85,"v":-28},{"t":288.1,"v":26},{"t":288.35,"v":-30},{"t":288.6,"v":40},{"t":288.85,"v":-33},{"t":289.1,"v":30},{"t":289.35,"v":-35},{"t":289.6,"v":35},{"t":289.85,"v":-40},{"t":290.1,"v":45},{"t":290.35,"v":-50},{"t":290.5,"v":68},{"t":290.7,"v":-55},{"t":290.95,"v":45},{"t":291.1,"v":-40},{"t":291.25,"v":98},{"t":291.4,"v":-65},{"t":291.6,"v":55},{"t":291.85,"v":-50},{"t":292.1,"v":45},{"t":292.35,"v":-55},{"t":292.6,"v":65},{"t":292.8,"v":-65},{"t":293,"v":50},{"t":293.25,"v":-48},{"t":293.5,"v":55},{"t":293.75,"v":-45},{"t":294,"v":40},{"t":294.3,"v":-42},{"t":294.55,"v":35},{"t":294.8,"v":-44},{"t":295.05,"v":38},{"t":295.3,"v":-40},{"t":295.55,"v":29},{"t":295.8,"v":-36},{"t":296.05,"v":33},{"t":296.3,"v":-28},{"t":296.55,"v":30},{"t":296.8,"v":-32},{"t":297.05,"v":33},{"t":297.3,"v":-25},{"t":297.55,"v":28},{"t":297.8,"v":-27},{"t":298.05,"v":30},{"t":298.3,"v":-38},{"t":298.55,"v":25},{"t":298.8,"v":-20},{"t":299.05,"v":22},{"t":299.3,"v":-18},{"t":299.55,"v":20},{"t":299.8,"v":-16},{"t":300.05,"v":18},{"t":300.3,"v":-15},{"t":300.55,"v":17},{"t":300.8,"v":-14},{"t":301.1,"v":19},{"t":301.4,"v":-15},{"t":301.7,"v":14},{"t":302,"v":-13},{"t":302.3,"v":15},{"t":302.6,"v":-12},{"t":302.9,"v":13},{"t":303.2,"v":-14},{"t":303.5,"v":12},{"t":303.8,"v":-11},{"t":304.1,"v":14},{"t":304.4,"v":-12},{"t":304.7,"v":13},{"t":305,"v":-12},{"t":305.3,"v":11},{"t":305.6,"v":-10},{"t":305.9,"v":12},{"t":306.2,"v":-13},{"t":306.5,"v":11},{"t":306.8,"v":-10},{"t":307.1,"v":12},{"t":307.4,"v":-11},{"t":307.7,"v":10},{"t":308,"v":-12},{"t":308.3,"v":11},{"t":308.6,"v":-10},{"t":308.9,"v":12},{"t":309.2,"v":-9},{"t":309.5,"v":10},{"t":309.8,"v":-11},{"t":310.1,"v":9},{"t":310.4,"v":-10},{"t":310.7,"v":11},{"t":311,"v":-9},{"t":311.3,"v":10},{"t":311.6,"v":-10},{"t":311.9,"v":12},{"t":312.2,"v":-9},{"t":312.5,"v":10},{"t":312.8,"v":-9},{"t":313.1,"v":14},{"t":313.4,"v":-10},{"t":313.7,"v":9},{"t":314,"v":-8},{"t":314.3,"v":10},{"t":314.6,"v":-8},{"t":314.9,"v":9},{"t":315.2,"v":-8},{"t":315.5,"v":15},{"t":315.8,"v":-8},{"t":316.1,"v":7},{"t":316.4,"v":-7},{"t":316.7,"v":8},{"t":317,"v":-6},{"t":317.3,"v":7},{"t":317.6,"v":-7},{"t":317.9,"v":6},{"t":318.2,"v":-6},{"t":318.5,"v":7},{"t":318.8,"v":-6},{"t":319.1,"v":6},{"t":319.4,"v":-7},{"t":319.7,"v":6},{"t":320,"v":-5},{"t":320.3,"v":7},{"t":320.6,"v":-6},{"t":320.9,"v":5},{"t":321.2,"v":-6},{"t":321.5,"v":6},{"t":321.8,"v":-5},{"t":322.1,"v":6},{"t":322.4,"v":-5},{"t":322.7,"v":6},{"t":323,"v":-6},{"t":323.3,"v":5},{"t":323.6,"v":-5},{"t":323.9,"v":6},{"t":324.2,"v":-5},{"t":324.5,"v":5},{"t":324.8,"v":-6},{"t":325.1,"v":5},{"t":325.4,"v":-5},{"t":325.7,"v":6},{"t":326,"v":-5},{"t":326.3,"v":5},{"t":326.6,"v":-5},{"t":326.9,"v":5},{"t":327.2,"v":-6},{"t":327.5,"v":5},{"t":327.8,"v":-4},{"t":328.1,"v":5},{"t":328.4,"v":-5},{"t":328.7,"v":6},{"t":329,"v":-5},{"t":329.3,"v":4},{"t":329.6,"v":-5},{"t":329.9,"v":5},{"t":330.2,"v":-4},{"t":330.5,"v":5},{"t":330.8,"v":-5},{"t":331.1,"v":4},{"t":331.4,"v":-5},{"t":331.7,"v":5},{"t":332,"v":-4},{"t":332.3,"v":5},{"t":332.6,"v":-4},{"t":332.9,"v":5},{"t":333.2,"v":-5},{"t":333.5,"v":4},{"t":333.8,"v":-4},{"t":334.1,"v":5},{"t":334.4,"v":-4},{"t":334.7,"v":5},{"t":335,"v":-4},{"t":335.3,"v":4},{"t":335.6,"v":-5},{"t":335.9,"v":4},{"t":336.2,"v":-4},{"t":336.5,"v":5},{"t":336.8,"v":-4},{"t":337.1,"v":4},{"t":337.4,"v":-4},{"t":337.7,"v":5},{"t":338,"v":-4},{"t":338.3,"v":6},{"t":338.6,"v":-4},{"t":339,"v":2}]
},
"vconcat":[
{"width":1440,"height":192,"data":{"name":"ARSA"},"resolve":{"axis":{"x":"independent"}},
"layer":[
{"mark":{"type":"line","color":"black","strokeWidth":0.9},
"encoding":{"x":{"field":"t","type":"quantitative","scale":{"domain":[40.4,342.4],"nice":false,"zero":false},"axis":{"orient":"bottom","values":[75,144,213,282],"tickSize":-10,"tickColor":"black","tickWidth":1,"labels":false,"domain":false,"grid":false,"title":null}},
"y":{"field":"v","type":"quantitative","scale":{"domain":[-83,109],"nice":false,"zero":false},"axis":{"title":"ARSA","ticks":false,"labels":false,"domain":false,"grid":false,"titleFontSize":32,"titleFontWeight":"normal","titleColor":"black","titleFont":"DejaVu Sans","titlePadding":13}}}},
{"data":{"values":[{"t":43.7,"v":82,"label":"Δ =33km"}]},"mark":{"type":"text","align":"left","baseline":"alphabetic","font":"DejaVu Serif","fontStyle":"italic","fontSize":22,"color":"black"},
"encoding":{"x":{"field":"t","type":"quantitative","axis":{"orient":"top","values":[75,144,213,282],"tickSize":-10,"tickColor":"black","tickWidth":1,"labels":false,"domain":false,"grid":false,"title":null}},"y":{"field":"v","type":"quantitative"},"text":{"field":"label"}}}
]},
{"width":1440,"height":192,"data":{"name":"CONA"},"resolve":{"axis":{"x":"independent"}},
"layer":[
{"mark":{"type":"line","color":"black","strokeWidth":0.9},
"encoding":{"x":{"field":"t","type":"quantitative","scale":{"domain":[40.4,342.4],"nice":false,"zero":false},"axis":{"orient":"bottom","values":[75,144,213,282],"tickSize":-10,"tickColor":"black","tickWidth":1,"labels":false,"domain":false,"grid":false,"title":null}},
"y":{"field":"v","type":"quantitative","scale":{"domain":[-96,96],"nice":false,"zero":false},"axis":{"title":"CONA","ticks":false,"labels":false,"domain":false,"grid":false,"titleFontSize":32,"titleFontWeight":"normal","titleColor":"black","titleFont":"DejaVu Sans","titlePadding":13}}}},
{"data":{"values":[{"t":43.7,"v":69,"label":"Δ =52km"}]},"mark":{"type":"text","align":"left","baseline":"alphabetic","font":"DejaVu Serif","fontStyle":"italic","fontSize":22,"color":"black"},
"encoding":{"x":{"field":"t","type":"quantitative","axis":{"orient":"top","values":[75,144,213,282],"tickSize":-10,"tickColor":"black","tickWidth":1,"labels":false,"domain":false,"grid":false,"title":null}},"y":{"field":"v","type":"quantitative"},"text":{"field":"label"}}}
]},
{"width":1440,"height":192,"data":{"name":"MOA"},"resolve":{"axis":{"x":"independent"}},
"layer":[
{"mark":{"type":"line","color":"black","strokeWidth":0.9},
"encoding":{"x":{"field":"t","type":"quantitative","scale":{"domain":[40.4,342.4],"nice":false,"zero":false},"axis":{"orient":"bottom","values":[75,144,213,282],"tickSize":-10,"tickColor":"black","tickWidth":1,"labels":false,"domain":false,"grid":false,"title":null}},
"y":{"field":"v","type":"quantitative","scale":{"domain":[-96,96],"nice":false,"zero":false},"axis":{"title":"MOA","ticks":false,"labels":false,"domain":false,"grid":false,"titleFontSize":32,"titleFontWeight":"normal","titleColor":"black","titleFont":"DejaVu Sans","titlePadding":13}}}},
{"data":{"values":[{"t":43.7,"v":69,"label":"Δ =96km"}]},"mark":{"type":"text","align":"left","baseline":"alphabetic","font":"DejaVu Serif","fontStyle":"italic","fontSize":22,"color":"black"},
"encoding":{"x":{"field":"t","type":"quantitative","axis":{"orient":"top","values":[75,144,213,282],"tickSize":-10,"tickColor":"black","tickWidth":1,"labels":false,"domain":false,"grid":false,"title":null}},"y":{"field":"v","type":"quantitative"},"text":{"field":"label"}}}
]},
{"width":1440,"height":192,"data":{"name":"SOKA"},"resolve":{"axis":{"x":"independent"}},
"layer":[
{"mark":{"type":"line","color":"black","strokeWidth":0.9},
"encoding":{"x":{"field":"t","type":"quantitative","scale":{"domain":[40.4,342.4],"nice":false,"zero":false},"axis":{"orient":"bottom","values":[75,144,213,282],"tickSize":-10,"tickColor":"black","tickWidth":1,"labels":false,"domain":false,"grid":false,"title":null}},
"y":{"field":"v","type":"quantitative","scale":{"domain":[-77,115],"nice":false,"zero":false},"axis":{"title":"SOKA","ticks":false,"labels":false,"domain":false,"grid":false,"titleFontSize":32,"titleFontWeight":"normal","titleColor":"black","titleFont":"DejaVu Sans","titlePadding":13}}}},
{"data":{"values":[{"t":43.7,"v":88,"label":"Δ =102km"}]},"mark":{"type":"text","align":"left","baseline":"alphabetic","font":"DejaVu Serif","fontStyle":"italic","fontSize":22,"color":"black"},
"encoding":{"x":{"field":"t","type":"quantitative","axis":{"orient":"top","values":[75,144,213,282],"tickSize":-10,"tickColor":"black","tickWidth":1,"labels":false,"domain":false,"grid":false,"title":null}},"y":{"field":"v","type":"quantitative"},"text":{"field":"label"}}}
]},
{"width":1440,"height":192,"data":{"name":"VIE"},"resolve":{"axis":{"x":"independent"}},
"layer":[
{"mark":{"type":"line","color":"black","strokeWidth":0.9},
"encoding":{"x":{"field":"t","type":"quantitative","scale":{"domain":[40.4,342.4],"nice":false,"zero":false},"axis":{"orient":"bottom","values":[75,144,213,282],"tickSize":-10,"tickColor":"black","tickWidth":1,"labels":true,"labelExpr":"utcFormat((datum.value + 53700) * 1000, '%H:%M:%S')","labelFontSize":32,"labelFont":"DejaVu Sans","labelColor":"black","labelPadding":19,"labelFlush":false,"labelOverlap":false,"domain":false,"grid":false,"title":"Zeit","titleFontSize":32,"titleFont":"DejaVu Sans","titleFontWeight":"normal","titleColor":"black","titlePadding":8}},
"y":{"field":"v","type":"quantitative","scale":{"domain":[-83,109],"nice":false,"zero":false},"axis":{"title":"VIE","ticks":false,"labels":false,"domain":false,"grid":false,"titleFontSize":32,"titleFontWeight":"normal","titleColor":"black","titleFont":"DejaVu Sans","titlePadding":13}}}},
{"data":{"values":[{"t":43.7,"v":82,"label":"Δ =103km"}]},"mark":{"type":"text","align":"left","baseline":"alphabetic","font":"DejaVu Serif","fontStyle":"italic","fontSize":22,"color":"black"},
"encoding":{"x":{"field":"t","type":"quantitative","axis":{"orient":"top","values":[75,144,213,282],"tickSize":-10,"tickColor":"black","tickWidth":1,"labels":false,"domain":false,"grid":false,"title":null}},"y":{"field":"v","type":"quantitative"},"text":{"field":"label"}}}
]}
]
}
